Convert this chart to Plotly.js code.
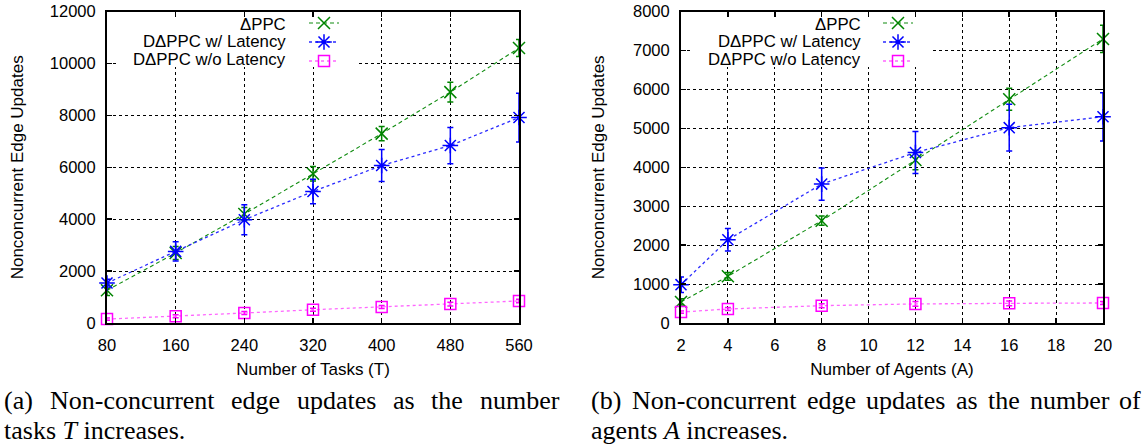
<!DOCTYPE html>
<html><head><meta charset="utf-8">
<script src="https://cdn.plot.ly/plotly-3.0.1.min.js"></script>
<style>html,body{margin:0;padding:0;background:#fff}#chart{width:1146px;height:445px}</style>
</head><body><div id="chart"></div>
<script>
// ---- data ----
const tasks = [80, 160, 240, 320, 400, 480, 560];
const tasksPPC = [1260, 2700, 4200, 5750, 7300, 8900, 10600];
const tasksPPCErr = [200, 250, 250, 280, 270, 380, 330];
const tasksLat = [1540, 2760, 3980, 5070, 6070, 6840, 7920];
const tasksLatErr = [150, 370, 580, 470, 620, 700, 940];
const tasksNoLat = [150, 260, 385, 510, 615, 730, 850];
const tasksNoLatErr = [40, 60, 60, 60, 60, 70, 70];

const agents = [2, 4, 8, 12, 16, 20];
const agentsPPC = [540, 1200, 2630, 4190, 5750, 7300];
const agentsPPCErr = [80, 100, 120, 250, 280, 350];
const agentsLat = [985, 2140, 3570, 4380, 5020, 5300];
const agentsLatErr = [200, 290, 415, 540, 600, 620];
const agentsNoLat = [280, 360, 445, 490, 505, 515];
const agentsNoLatErr = [30, 40, 50, 60, 60, 40];

const seriesNames = ['ΔPPC', 'DΔPPC w/ Latency', 'DΔPPC w/o Latency'];
const xTitles = ['Number of Tasks (T)', 'Number of Agents (A)'];
const yTitle = 'Nonconcurrent Edge Updates';
const captionA = ['(a) Non-concurrent edge updates as the number', 'tasks <i>T</i> increases.'];
const captionB = ['(b) Non-concurrent edge updates as the number of', 'agents <i>A</i> increases.'];

// ---- styles ----
const FONT = 'Liberation Sans, Arial, sans-serif';
const SERIF_NAME = 'Liberation Serif';
const SERIF = SERIF_NAME + ', Times New Roman, serif';
const CAP_SIZE = 26;
const W = 1146, H = 445;
const styles = [
  {color: '#008400', lineColor: '#108c10', dash: '4px,3px', symbol: 'x-thin-open', size: 12, lw: 1.1},
  {color: '#0000ff', lineColor: '#2a2aff', dash: 'dot', symbol: 'asterisk-open', size: 13, lw: 1.3},
  {color: '#ff00ff', lineColor: '#ff66ff', dash: 'dot', symbol: 'square-open', size: 11, lw: 1.3}
];

function mk(x, y, err, i, xa, ya, leg) {
  const s = styles[i];
  return {
    type: 'scatter', mode: 'lines+markers', x: x, y: y, name: ' ',
    xaxis: xa, yaxis: ya, legend: leg, cliponaxis: false,
    line: {color: s.lineColor, dash: s.dash, width: s.lw},
    marker: {symbol: s.symbol, size: s.size, color: s.color, line: {color: s.color, width: 1.5}},
    error_y: {type: 'data', array: err, visible: true, color: s.color, thickness: 1.5, width: 3},
    hoverinfo: 'x+y'
  };
}

const data = [
  mk(tasks, tasksPPC, tasksPPCErr, 0, 'x', 'y', 'legend'),
  mk(tasks, tasksLat, tasksLatErr, 1, 'x', 'y', 'legend'),
  mk(tasks, tasksNoLat, tasksNoLatErr, 2, 'x', 'y', 'legend'),
  mk(agents, agentsPPC, agentsPPCErr, 0, 'x2', 'y2', 'legend2'),
  mk(agents, agentsLat, agentsLatErr, 1, 'x2', 'y2', 'legend2'),
  mk(agents, agentsNoLat, agentsNoLatErr, 2, 'x2', 'y2', 'legend2')
];

function ax(extra) {
  return Object.assign({
    showline: true, linecolor: '#000', linewidth: 2, mirror: 'ticks',
    ticks: 'inside', ticklen: 5, tickwidth: 1.5, tickcolor: '#000',
    showgrid: true, gridcolor: '#000', gridwidth: 1, griddash: 'dot',
    zeroline: false, automargin: false, ticklabelstandoff: 6,
    tickformat: 'd', separatethousands: false,
    tickfont: {family: FONT, size: 16.5, color: '#000'}
  }, extra);
}

const yDom = [1 - 323 / H, 1 - 11.7 / H];
const xDom1 = [107 / W, 519 / W];
const xDom2 = [681 / W, 1103 / W];

function legendText(xRightPx) {
  const rows = [24, 42, 59];
  return seriesNames.map((t, k) => ({
    xref: 'paper', yref: 'paper', x: xRightPx / W, y: 1 - rows[k] / H,
    xanchor: 'right', yanchor: 'middle', showarrow: false, text: t,
    font: {family: FONT, size: 16.8, color: '#000'}
  }));
}

// justified first caption line (words spread between x0 and x1), plain second line
const measureCtx = document.createElement('canvas').getContext('2d');
function caption(lines, x0, x1) {
  const rows = [400, 430];
  const out = [];
  measureCtx.font = CAP_SIZE + 'px "' + SERIF_NAME + '"';
  const words = lines[0].split(' ');
  const widths = words.map(w => measureCtx.measureText(w).width);
  const total = widths.reduce((a, b) => a + b, 0);
  const gap = (x1 - x0 - total) / (words.length - 1);
  let cx = x0;
  words.forEach((w, k) => {
    out.push({xref: 'paper', yref: 'paper', x: cx / W, y: 1 - rows[0] / H,
      xanchor: 'left', yanchor: 'middle', showarrow: false, text: w, borderpad: 0,
      font: {family: SERIF, size: CAP_SIZE, color: '#000'}});
    cx += widths[k] + gap;
  });
  out.push({xref: 'paper', yref: 'paper', x: x0 / W, y: 1 - rows[1] / H,
    xanchor: 'left', yanchor: 'middle', showarrow: false, text: lines[1], borderpad: 0,
    font: {family: SERIF, size: CAP_SIZE, color: '#000'}});
  return out;
}

const layout = {
  width: W, height: H, margin: {l: 0, r: 0, t: 0, b: 0},
  paper_bgcolor: '#fff', plot_bgcolor: '#fff',
  font: {family: FONT, color: '#000'},
  xaxis: ax({domain: xDom1, anchor: 'y', range: [80, 560], tick0: 80, dtick: 80,
    title: {text: xTitles[0], font: {family: FONT, size: 17}, standoff: 10}}),
  yaxis: ax({domain: yDom, anchor: 'x', range: [0, 12000], dtick: 2000,
    title: {text: yTitle, font: {family: FONT, size: 17}, standoff: 22}}),
  xaxis2: ax({domain: xDom2, anchor: 'y2', range: [2, 20], tick0: 2, dtick: 2,
    title: {text: xTitles[1], font: {family: FONT, size: 17}, standoff: 10}}),
  yaxis2: ax({domain: yDom, anchor: 'x2', range: [0, 8000], dtick: 1000,
    title: {text: yTitle, font: {family: FONT, size: 17}, standoff: 24}}),
  legend: {x: 304 / W, y: 1 - 8.5 / H, xanchor: 'left', yanchor: 'top', bgcolor: 'rgba(0,0,0,0)',
    borderwidth: 0, font: {size: 10}, tracegroupgap: 0},
  legend2: {x: 878 / W, y: 1 - 8.5 / H, xanchor: 'left', yanchor: 'top', bgcolor: 'rgba(0,0,0,0)',
    borderwidth: 0, font: {size: 10}, tracegroupgap: 0},
  showlegend: true,
  shapes: [
    {type: 'rect', xref: 'x', yref: 'y', x0: 93, x1: 372, y0: 9870, y1: 11950,
      fillcolor: '#fff', line: {width: 0}, layer: 'between'},
    {type: 'rect', xref: 'x2', yref: 'y2', x0: 2.4, x1: 12.75, y0: 6580, y1: 7965,
      fillcolor: '#fff', line: {width: 0}, layer: 'between'}
  ],
  annotations: [].concat(legendText(288), legendText(863),
    caption(captionA, 3, 558), caption(captionB, 590, 1140))
};

Plotly.newPlot('chart', data, layout, {displayModeBar: false, staticPlot: true});
</script>
</body></html>
